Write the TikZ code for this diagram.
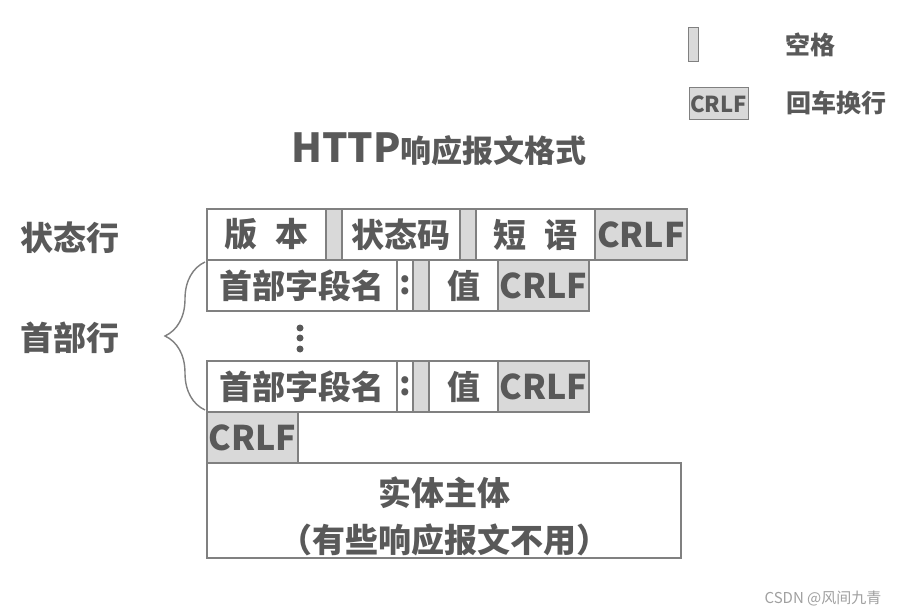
\documentclass[tikz,border=0pt]{standalone}
\usepackage{fontspec}
\setmainfont{Noto Sans CJK SC}
\usetikzlibrary{positioning,decorations.pathreplacing}
\definecolor{ink}{HTML}{595959}
\definecolor{edge}{HTML}{808080}
\definecolor{spacegray}{HTML}{D9D9D9}
\definecolor{mark}{HTML}{A0A0A0}
\newcommand{\latinbig}[1]{{\fontsize{34}{34}\selectfont #1}}
\tikzset{
  field/.style={draw=edge,line width=1.3pt,fill=white,minimum height=51pt,inner sep=0pt,outer sep=0pt,
    text=ink,font=\fontsize{33}{36}\selectfont\bfseries},
  gapbox/.style={field,fill=spacegray,minimum width=16pt},
  crlfbox/.style={field,fill=spacegray,minimum width=91pt},
  rowname/.style={text=ink,font=\fontsize{33}{36}\selectfont\bfseries},
  keytext/.style={text=ink,font=\fontsize{25}{28}\selectfont\bfseries}
}

\begin{document}
\begin{tikzpicture}[x=1pt,y=-1pt,node distance=0pt]
  \useasboundingbox[fill=white] (0,0) rectangle (906,615);

  % legend
  \node[gapbox,minimum width=10pt,minimum height=34pt,line width=1pt] (keySpace) at (693,45) {};
  \node[keytext] (keySpaceText) at (810,45) {空格};
  \node[crlfbox,minimum width=59pt,minimum height=32pt,line width=1pt,font=\fontsize{22}{24}\selectfont\bfseries] (keyCrlf) at (718.5,104) {CRLF};
  \node[keytext] (keyCrlfText) at (836,103) {回车换行};

  \node[rowname,font=\fontsize{31}{33}\selectfont\bfseries] (title) at (439,149) {{\fontsize{40}{40}\selectfont HTTP}响应报文格式};

  % status line
  \node[field,minimum width=119pt,anchor=north west] (ver) at (207,209) {版\hspace{.55em}本};
  \node[gapbox,right=of ver] (spVer) {};
  \node[field,minimum width=118pt,right=of spVer] (code) {状态码};
  \node[gapbox,right=of code] (spCode) {};
  \node[field,minimum width=119pt,right=of spCode] (phrase) {短\hspace{.55em}语};
  \node[crlfbox,minimum width=92pt,right=of phrase] (crlfStatus) {\latinbig{CRLF}};

  % header lines
  \node[field,minimum width=190pt,anchor=north west] (nameA) at (ver.south west) {首部字段名};
  \node[field,minimum width=16pt,right=of nameA] (colonA) {:};
  \node[gapbox,right=of colonA] (spA) {};
  \node[field,minimum width=69pt,right=of spA] (valA) {值};
  \node[crlfbox,right=of valA] (crlfA) {\latinbig{CRLF}};

  \foreach \dy in {328,338,349}
    \fill[ink] (300,\dy) circle (3.5pt);

  \node[field,minimum width=190pt,anchor=north west] (nameB) at (207,361) {首部字段名};
  \node[field,minimum width=16pt,right=of nameB] (colonB) {:};
  \node[gapbox,right=of colonB] (spB) {};
  \node[field,minimum width=69pt,right=of spB] (valB) {值};
  \node[crlfbox,right=of valB] (crlfB) {\latinbig{CRLF}};

  % blank line and body
  \node[crlfbox,anchor=north west] (crlfEnd) at (nameB.south west) {\latinbig{CRLF}};
  \node[field,minimum width=474pt,minimum height=95pt,anchor=north west,align=center,
    font=\fontsize{33}{47}\selectfont\bfseries] (body) at (crlfEnd.south west)
    {\rule{0pt}{40pt}实体主体\\（有些响应报文不用）};

  % row names
  \node[rowname] (statusName) at (70,238) {状态行};
  \node[rowname] (headerName) at (70,338) {首部行};
  \coordinate (braceTop) at ([xshift=-2pt,yshift=-2pt]nameA.north west);
  \coordinate (braceBot) at ([xshift=-2pt,yshift=2pt]nameB.south west);
  \draw[edge,line width=1.4pt,decorate,decoration={brace,amplitude=40pt}] (braceBot) -- (braceTop);

  \node[text=mark,font=\fontsize{15}{18}\selectfont] (credit) at (823,598) {CSDN @风间九青};
\end{tikzpicture}
\end{document}
